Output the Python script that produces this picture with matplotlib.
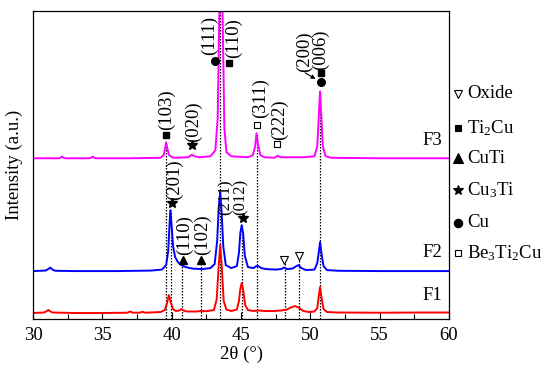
import matplotlib
matplotlib.use('Agg')
import matplotlib.pyplot as plt
from matplotlib.lines import Line2D
import numpy as np

plt.rcParams['font.family'] = ['Liberation Serif', 'DejaVu Serif']
plt.rcParams['mathtext.fontset'] = 'custom'
plt.rcParams['mathtext.rm'] = 'Liberation Serif'
plt.rcParams['mathtext.it'] = 'Liberation Serif'

# XRD patterns: (2theta, intensity above own baseline)
f1 = [(30, 0), (30.8, 0.5), (31.0, 2.0), (31.1, 3.0), (31.2, 2.0), (31.4, 0.5), (33.0, 0), (35.0, 0),
      (36.8, 0.3), (37.0, 1.5), (37.2, 0.3), (37.7, 0.3), (37.9, 1.2), (38.1, 0.3), (39.2, 1.0),
      (39.5, 3.0), (39.65, 9.0), (39.8, 18.0), (39.95, 10.0), (40.1, 4.0), (40.3, 2.0), (40.55, 2.5),
      (40.7, 4.0), (40.85, 2.5), (41.1, 1.5), (41.8, 1.5), (42.1, 2.0), (42.5, 1.8), (43.05, 3.0),
      (43.25, 14.0), (43.38, 45.0), (43.5, 68.0), (43.62, 45.0), (43.75, 12.0), (43.95, 3.5),
      (44.3, 2.0), (44.7, 3.5), (44.85, 12.0), (44.95, 24.0), (45.05, 30.0), (45.15, 24.0),
      (45.3, 8.0), (45.5, 3.0), (45.9, 2.0), (46.3, 2.5), (46.7, 2.0), (47.3, 2.0), (47.9, 2.5),
      (48.3, 3.5), (48.6, 5.5), (48.9, 7.0), (49.2, 5.0), (49.5, 2.0), (49.9, 1.0), (50.3, 1.5),
      (50.5, 5.0), (50.6, 16.0), (50.7, 26.0), (50.8, 16.0), (50.95, 4.0), (51.2, 1.0), (52.0, 0.5),
      (55.0, 0.3), (58.0, 0.5), (60.0, 0.5)]
f2 = [(30, 0), (30.9, 0.5), (31.1, 2), (31.25, 3.5), (31.4, 1.5), (31.6, 0.3), (33, 0), (36, 0),
      (38.5, 0.5), (39.3, 1.5), (39.6, 6), (39.75, 20), (39.9, 61), (40.0, 45), (40.1, 25),
      (40.25, 14), (40.45, 9), (40.7, 6), (41.0, 4), (41.5, 2.5), (42.2, 2), (42.8, 3), (43.1, 7),
      (43.28, 30), (43.4, 65), (43.5, 79), (43.6, 60), (43.72, 25), (43.9, 6), (44.3, 3), (44.7, 5),
      (44.85, 18), (44.95, 38), (45.05, 46), (45.15, 38), (45.28, 15), (45.5, 4), (45.9, 3),
      (46.1, 5), (46.25, 5), (46.45, 3), (46.8, 2), (47.5, 1.5), (47.9, 2), (48.1, 3.5), (48.3, 2),
      (48.7, 2.5), (49.0, 5), (49.15, 6), (49.35, 3), (49.7, 1), (50.3, 1.5), (50.5, 8),
      (50.62, 20), (50.7, 29), (50.8, 18), (50.95, 5), (51.2, 1), (52, 0.3), (55, 0), (60, 0)]
f3 = [(30, 0), (31.9, 0), (32.1, 1.5), (32.3, 0), (34.1, 0), (34.3, 1.5), (34.5, 0), (37, 0),
      (39.2, 0.5), (39.42, 3), (39.52, 9), (39.6, 16), (39.7, 9), (39.82, 3), (40.1, 0.5),
      (41.2, 1), (41.45, 3.5), (41.65, 2), (42.0, 1), (42.8, 2), (43.15, 8), (43.32, 40),
      (43.42, 130), (43.5, 200), (43.6, 200), (43.7, 120), (43.8, 30), (43.95, 6), (44.3, 2),
      (45.5, 1), (45.85, 3), (46.02, 12), (46.12, 25), (46.22, 14), (46.4, 3), (46.7, 1),
      (47.4, 0.5), (47.65, 2.5), (47.85, 1), (49.5, 1), (50.3, 2), (50.5, 12), (50.62, 45),
      (50.7, 67), (50.78, 45), (50.9, 12), (51.1, 2), (51.5, 0.5), (55, 0), (60, 0)]

names = ['F1', 'F2', 'F3']
offsets = [6, 48, 161]
colors = ['#ff0000', '#0000ff', '#ff00ff']

# dotted reference lines: position and upper end
dot_x = [39.57, 39.95, 40.75, 42.1, 43.52, 45.08, 46.15, 48.15, 49.15, 50.68]
dot_top = [177, 109, 57, 57, 309, 94, 186, 56, 60, 228]

fig = plt.figure(figsize=(5.5, 3.73), dpi=100)
ax = fig.add_axes([33 / 550, 1 - 319 / 373, 416 / 550, 308.5 / 373])

ax.vlines(dot_x, 0, dot_top, colors='k', linestyles=(0, (1.2, 1.2)), lw=0.9, zorder=1)

for data, off, c in zip([f1, f2, f3], offsets, colors):
    x, y = np.array(data, dtype=float).T
    ax.plot(x, y + off, color=c, lw=1.4, zorder=2)

for name, ypos in zip(names, [24, 67, 179]):
    ax.text(59.5, ypos, name, ha='right', va='center', fontsize=13.5)

# peak labels: (x, y bottom, text)
peak_labels = [(39.6, 189, '(103)'), (41.6, 177, '(020)'), (42.76, 264, '(111)'),
               (44.49, 261, '(110)'), (46.37, 201, '(311)'), (47.74, 179, '(222)'),
               (49.55, 247, '(200)'), (50.72, 249, '(006)'), (40.17, 119, '(201)'),
               (40.9, 64, '(110)'), (42.2, 64, '(102)')]
for px, py, t in peak_labels:
    ax.text(px, py, t, rotation=90, ha='center', va='bottom', fontsize=13.5)
# the two tightly packed F2 labels
ax.text(43.88, 104, '(211)', rotation=90, ha='center', va='bottom', fontsize=12)
ax.text(44.98, 104, '(012)', rotation=90, ha='center', va='bottom', fontsize=12)

mk = dict(ls='none', color='k', clip_on=False, zorder=3)
ax.plot([39.6, 44.1, 50.8], [184, 256, 246], marker='s', ms=4.5, **mk)
ax.plot([43.1, 50.75], [258, 237], marker='o', ms=5.5, **mk)
ax.plot([41.5, 40.0, 45.14], [174, 116, 101], marker='*', ms=7.5, **mk)
ax.plot([40.8, 42.1], [59, 59], marker='^', ms=5.5, **mk)
ax.plot([46.15, 47.6], [194, 175], marker='s', ms=4.5, mfc='white', mew=0.8, **mk)
ax.plot([48.1, 49.2], [59, 63], marker='v', ms=6, mfc='white', mew=0.8, **mk)
ax.annotate('', xy=(50.55, 239), xytext=(49.45, 248),
            arrowprops=dict(arrowstyle='-|>', color='k', lw=0.8, mutation_scale=6))

ax.set_xlim(30, 60)
ax.set_ylim(0, 309)
ax.set_xticks(np.arange(30, 61, 5))
ax.set_xticks(np.arange(32.5, 60, 5), minor=True)
ax.set_yticks([])
ax.tick_params(axis='x', which='major', direction='in', length=5, width=0.8, labelsize=13.5, pad=6)
ax.tick_params(axis='x', which='minor', direction='in', length=3.5, width=0.8)
for s in ax.spines.values():
    s.set_linewidth(0.9)
ax.set_xlabel('2θ (°)', fontsize=13.5, labelpad=1)
ax.set_ylabel('Intensity (a.u.)', fontsize=13.5, labelpad=7)

# legend outside on the right
leg_items = [('v', 'white', 5.5, 'Oxide'), ('s', 'k', 4.5, 'Ti$_2$Cu'), ('^', 'k', 6.5, 'CuTi'),
             ('*', 'k', 7, 'Cu$_3$Ti'), ('o', 'k', 6, 'Cu'), ('s', 'white', 4.5, 'Be$_3$Ti$_2$Cu')]
leg_y = [94, 128, 158, 190, 223, 253]
for (m, fc, ms, lab), yp in zip(leg_items, leg_y):
    fy = 1 - yp / 373
    fig.add_artist(Line2D([458 / 550], [fy], marker=m, ms=ms, mfc=fc, mec='k', mew=0.8,
                          ls='none', transform=fig.transFigure))
    fig.text(467 / 550, fy, lab, ha='left', va='center', fontsize=13.5)

fig.savefig('out.png', dpi=100)
